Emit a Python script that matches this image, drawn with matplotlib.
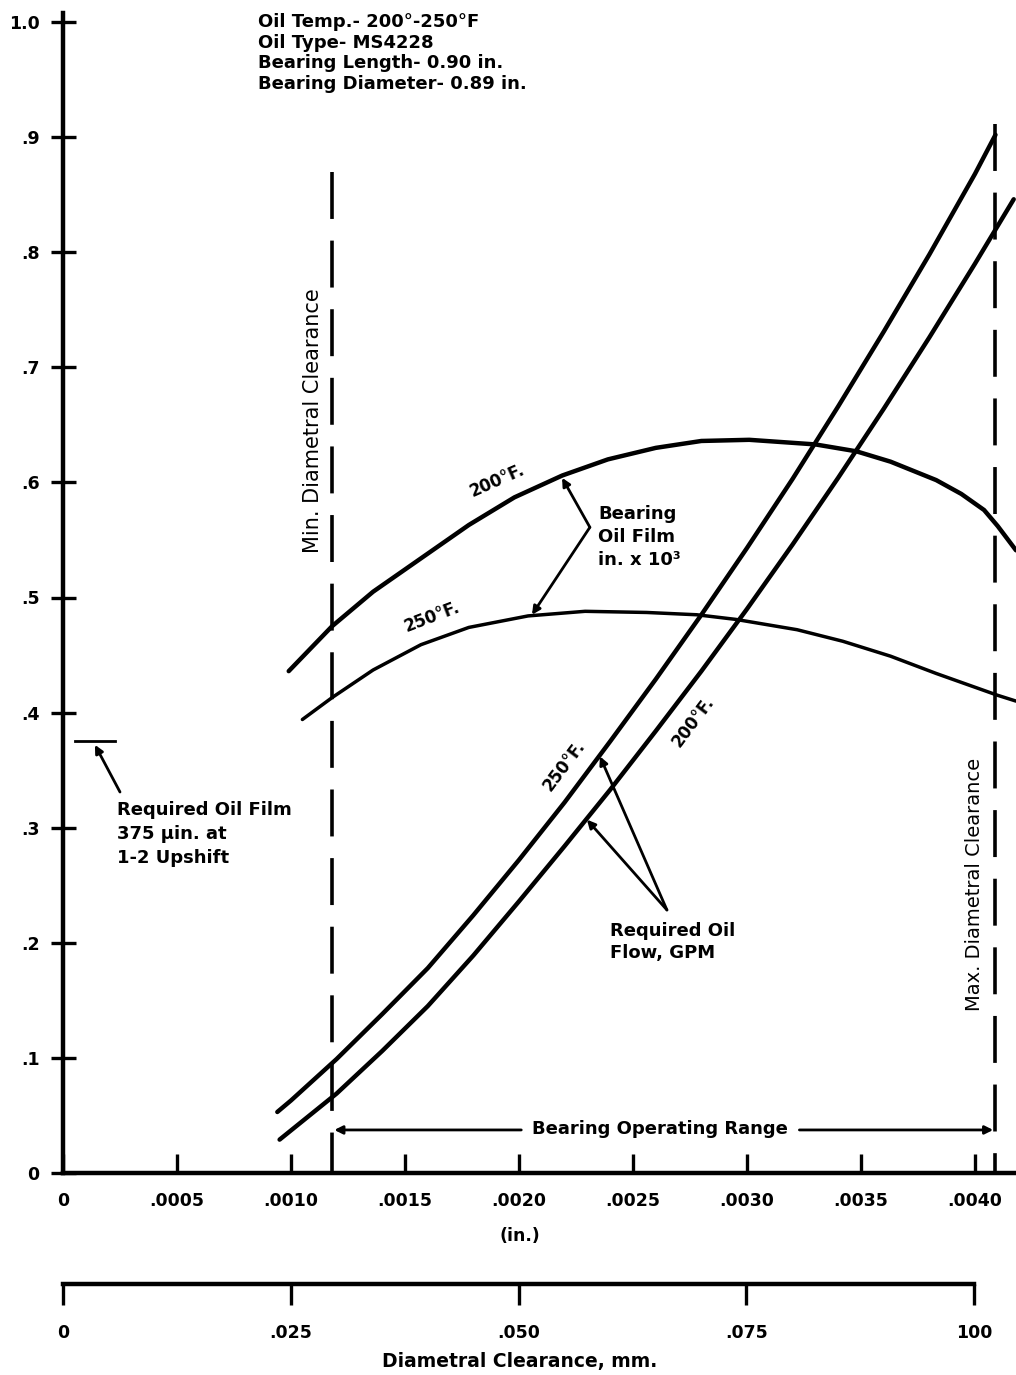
import matplotlib
matplotlib.use("Agg")
import matplotlib.pyplot as plt

# ---------------- data (x in inches, y dimensionless) ----------------
flow_250_x = [0.00094, 0.00100, 0.00120, 0.00140, 0.00160, 0.00180, 0.00200, 0.00220, 0.00240,
              0.00260, 0.00280, 0.00300, 0.00320, 0.00340, 0.00360, 0.00380, 0.00400, 0.00409]
flow_250_y = [0.053, 0.063, 0.099, 0.138, 0.178, 0.224, 0.272, 0.322, 0.375,
              0.429, 0.485, 0.543, 0.603, 0.666, 0.731, 0.798, 0.868, 0.902]

flow_200_x = [0.00095, 0.00100, 0.00120, 0.00140, 0.00160, 0.00180, 0.00200, 0.00220, 0.00240,
              0.00260, 0.00280, 0.00300, 0.00320, 0.00340, 0.00360, 0.00380, 0.00400, 0.00417]
flow_200_y = [0.029, 0.037, 0.069, 0.106, 0.145, 0.189, 0.236, 0.284, 0.333,
              0.384, 0.436, 0.490, 0.546, 0.604, 0.664, 0.726, 0.790, 0.846]

film_200_x = [0.00099, 0.00118, 0.00136, 0.00157, 0.00178, 0.00198, 0.00219, 0.00239, 0.00260,
              0.00280, 0.00301, 0.00330, 0.00348, 0.00363, 0.00383, 0.00394, 0.00404, 0.00410, 0.00418]
film_200_y = [0.436, 0.475, 0.505, 0.534, 0.563, 0.587, 0.606, 0.620, 0.630,
              0.636, 0.637, 0.633, 0.627, 0.618, 0.602, 0.590, 0.576, 0.562, 0.541]

film_250_x = [0.00105, 0.00118, 0.00136, 0.00157, 0.00178, 0.00204, 0.00229, 0.00256, 0.00278,
              0.00295, 0.00322, 0.00342, 0.00363, 0.00383, 0.00410, 0.00418]
film_250_y = [0.394, 0.413, 0.437, 0.459, 0.474, 0.484, 0.488, 0.487, 0.485,
              0.481, 0.472, 0.462, 0.449, 0.434, 0.415, 0.410]

min_clearance = 0.00118
max_clearance = 0.00409
required_film = 0.375

x_ticks = [0, 0.0005, 0.0010, 0.0015, 0.0020, 0.0025, 0.0030, 0.0035, 0.0040]
x_labels = ["0", ".0005", ".0010", ".0015", ".0020", ".0025", ".0030", ".0035", ".0040"]
y_ticks = [0, 0.1, 0.2, 0.3, 0.4, 0.5, 0.6, 0.7, 0.8, 0.9, 1.0]
y_labels = ["0", ".1", ".2", ".3", ".4", ".5", ".6", ".7", ".8", ".9", "1.0"]
mm_ticks = [0, 0.025, 0.050, 0.075, 0.100]
mm_labels = ["0", ".025", ".050", ".075", "100"]

# ---------------- figure ----------------
W, H = 1016, 1375
plt.rcParams["font.family"] = ["DejaVu Sans"]
fig = plt.figure(figsize=(W / 100, H / 100), dpi=100)


def fx(px):
    return px / W


def fy(py):
    return 1 - py / H


left_px, right_px, bottom_px, top_px = 63, 1016, 1173, 13
ax = fig.add_axes([fx(left_px), fy(bottom_px), fx(right_px - left_px), (bottom_px - top_px) / H])
ax.set_xlim(0, 0.00418)
ax.set_ylim(0, (1173 - 13) / 1151)
for s in ["top", "right"]:
    ax.spines[s].set_visible(False)
for s in ["left", "bottom"]:
    ax.spines[s].set_linewidth(3.2)

ax.set_xticks(x_ticks)
ax.set_xticklabels(x_labels)
ax.set_yticks(y_ticks)
ax.set_yticklabels(y_labels)
ax.tick_params(axis="x", direction="in", length=14, width=2.4, pad=14, labelsize=12.5)
ax.tick_params(axis="y", direction="inout", length=18, width=2.4, pad=8, labelsize=12.5)
for lab in ax.get_xticklabels() + ax.get_yticklabels():
    lab.set_fontweight("bold")

ax.plot(flow_250_x, flow_250_y, color="black", lw=3.2, solid_capstyle="round", clip_on=False)
ax.plot(flow_200_x, flow_200_y, color="black", lw=3.2, solid_capstyle="round", clip_on=False)
ax.plot(film_200_x, film_200_y, color="black", lw=3.2, solid_capstyle="round", clip_on=False)
ax.plot(film_250_x, film_250_y, color="black", lw=2.5, solid_capstyle="round", clip_on=False)

# dashed clearance limits (drawn top-down so a dash starts at the top)
ax.plot([min_clearance, min_clearance], [0.870, 0], color="black", lw=2.6, dashes=(13, 6))
ax.plot([max_clearance, max_clearance], [0.911, 0], color="black", lw=2.6, dashes=(13, 6))

# required oil film marker
ax.plot([0.000053, 0.000228], [required_film, required_film], color="black", lw=2.0)
ap = dict(arrowstyle="-|>", lw=2.0, color="black", mutation_scale=12, shrinkA=0, shrinkB=0)
ax.annotate("", xy=(0.000140, 0.372), xytext=(0.000250, 0.331), arrowprops=ap)
fig.text(fx(117), fy(834), "Required Oil Film\n375 \u03bcin. at\n1-2 Upshift", fontsize=13,
         fontweight="bold", va="center", ha="left", linespacing=1.4)

# film arrows
ax.annotate("", xy=(0.002189, 0.604), xytext=(0.002311, 0.561), arrowprops=ap)
ax.annotate("", xy=(0.002057, 0.485), xytext=(0.002311, 0.561), arrowprops=ap)
fig.text(fx(598), fy(537), "Bearing\nOil Film\nin. x 10\u00b3", fontsize=13, fontweight="bold",
         va="center", ha="left", linespacing=1.35)

# flow arrows
ax.annotate("", xy=(0.002355, 0.362), xytext=(0.002649, 0.2285), arrowprops=ap)
ax.annotate("", xy=(0.002298, 0.307), xytext=(0.002649, 0.2285), arrowprops=ap)
fig.text(fx(610), fy(942), "Required Oil\nFlow, GPM", fontsize=13, fontweight="bold",
         va="center", ha="left", linespacing=1.35)

# operating range
ax.annotate("", xy=(0.00119, 0.0374), xytext=(0.00201, 0.0374), arrowprops=ap)
ax.annotate("", xy=(0.00408, 0.0374), xytext=(0.00323, 0.0374), arrowprops=ap)
fig.text(fx(660), fy(1129), "Bearing Operating Range", fontsize=13, fontweight="bold",
         va="center", ha="center")

# curve labels
fig.text(fx(497), fy(481), "200\u00b0F.", fontsize=12, fontweight="bold", rotation=24,
         va="center", ha="center")
fig.text(fx(432), fy(617), "250\u00b0F.", fontsize=12, fontweight="bold", rotation=21,
         va="center", ha="center")
fig.text(fx(564), fy(766), "250\u00b0F.", fontsize=12, fontweight="bold", rotation=53,
         va="center", ha="center")
fig.text(fx(693), fy(722), "200\u00b0F.", fontsize=12, fontweight="bold", rotation=53,
         va="center", ha="center")

# rotated limit labels
fig.text(fx(313), fy(421), "Min. Diametral Clearance", fontsize=15, rotation=90,
         va="center", ha="center")
fig.text(fx(975), fy(884), "Max. Diametral Clearance", fontsize=14, rotation=90,
         va="center", ha="center")

# header block
fig.text(fx(258), fy(53), "Oil Temp.- 200\u00b0-250\u00b0F\nOil Type- MS4228\nBearing Length- 0.90 in.\nBearing Diameter- 0.89 in.",
         fontsize=13, fontweight="bold", va="center", ha="left", linespacing=1.2)

fig.text(fx(520), fy(1236), "(in.)", fontsize=12.5, fontweight="bold", ha="center", va="center")

# ---------------- mm scale ----------------
ax2 = fig.add_axes([fx(63), fy(1284), fx(974 - 63), 0.0001])
ax2.set_xlim(0, 0.100)
ax2.set_ylim(0, 1)
for s in ["left", "right", "bottom"]:
    ax2.spines[s].set_visible(False)
ax2.spines["top"].set_linewidth(3.2)
ax2.set_yticks([])
ax2.set_xticks(mm_ticks)
ax2.set_xticklabels(mm_labels)
ax2.tick_params(axis="x", direction="out", length=15, width=2.4, pad=14, labelsize=12.5)
for lab in ax2.get_xticklabels():
    lab.set_fontweight("bold")
ax2.patch.set_visible(False)
fig.text(fx(520), fy(1362), "Diametral Clearance, mm.", fontsize=13.5, fontweight="bold",
         ha="center", va="center")

fig.savefig("out.png", dpi=100)
